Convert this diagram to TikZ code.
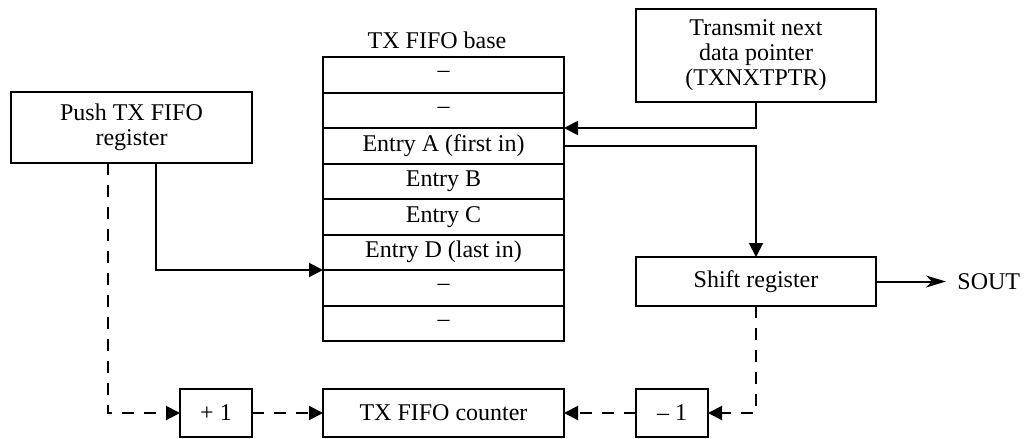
\documentclass[tikz,border=0pt]{standalone}
\usepackage{fontspec}
\setmainfont{Liberation Serif}
\usetikzlibrary{arrows.meta,calc}
\tikzset{
  box/.style={draw, line width=1pt, rectangle, inner sep=0pt, outer sep=0pt, align=center, font=\fontsize{12}{12.5}\selectfont},
  cell/.style={box, minimum width=120.5pt, minimum height=17.75pt},
  arr/.style={line width=1pt, -{Triangle[length=7pt,width=7pt]}},
  darr/.style={arr, dash pattern=on 6pt off 5pt},
  sarr/.style={line width=1pt, -{Stealth[length=10pt,width=6pt,inset=3pt]}},
  lbl/.style={font=\fontsize{12}{12.5}\selectfont, inner sep=0pt}
}
\begin{document}
\begin{tikzpicture}[x=0.5pt, y=-0.5pt]
\useasboundingbox (0,0) rectangle (1024,439);
% FIFO
\node[lbl] (base) at (437,40) {TX FIFO base};
\node[cell] (r0) at (443.5,74.75) {--};
\node[cell] (r1) at (443.5,110.25) {--};
\node[cell] (rA) at (443.5,145.75) {Entry A (first in)};
\node[cell] (rB) at (443.5,181.25) {Entry B};
\node[cell] (rC) at (443.5,216.75) {Entry C};
\node[cell] (rD) at (443.5,252.25) {Entry D (last in)};
\node[cell] (r6) at (443.5,287.75) {--};
\node[cell] (r7) at (443.5,323.25) {--};
% other boxes
\node[box, minimum width=120.5pt, minimum height=35.5pt] (push) at (131.5,127.5) {Push TX FIFO\\register};
\node[box, minimum width=120pt, minimum height=46.5pt] (txp) at (756,55.5) {Transmit next\\data pointer\\(TXNXTPTR)};
\node[box, minimum width=120pt, minimum height=24.5pt] (shift) at (756,281.5) {Shift register};
\node[box, minimum width=36pt, minimum height=24pt] (plus) at (216,413) {+ 1};
\node[box, minimum width=120.5pt, minimum height=24pt] (counter) at (443.5,413) {TX FIFO counter};
\node[box, minimum width=36pt, minimum height=24pt] (minus) at (672,413) {-- 1};
\node[lbl, anchor=west, inner xsep=5.5pt] (sout) at (946,281.5) {SOUT};
% connectors
\draw[arr] (txp.south) |- (rA.north east);
\draw[arr] (rA.east) -| (shift.north);
\draw[sarr] (shift.east) -- (sout.west);
\draw[arr] ([xshift=12.25pt]push.south) |- (rD.south west);
\draw[darr] ([xshift=-11.75pt]push.south) |- (plus.west);
\draw[darr] (plus.east) -- (counter.west);
\draw[darr] (shift.south) |- (minus.east);
\draw[darr] (minus.west) -- (counter.east);
\end{tikzpicture}
\end{document}
